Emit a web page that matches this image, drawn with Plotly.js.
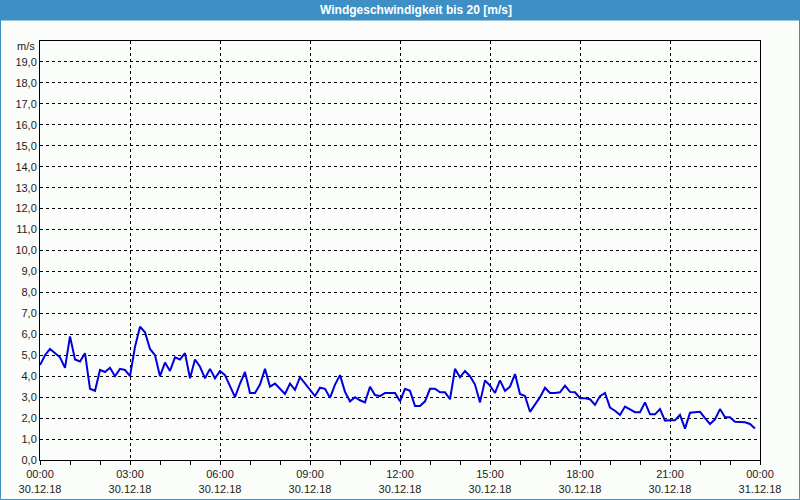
<!DOCTYPE html>
<html>
<head>
<meta charset="utf-8">
<script src="https://cdn.plot.ly/plotly-3.0.1.min.js"></script>
<style>
html,body{margin:0;padding:0;background:#fbfdfb;}
#chart{width:800px;height:500px;}
</style>
</head>
<body>
<div id="chart"></div>
<script>
// Wind speed [m/s], one reading every 10 minutes from 30.12.18 00:00 to 23:50
const speeds = [
 4.53,5.0,5.3,5.1,4.9,4.4,5.9,4.8,4.7,5.1,3.4,3.3,4.3,4.2,4.4,4.0,4.35,4.3,
 4.0,5.4,6.36,6.1,5.3,5.0,4.0,4.65,4.25,4.9,4.8,5.1,3.9,4.8,4.45,3.9,4.35,3.9,
 4.25,4.05,3.5,3.0,3.65,4.2,3.2,3.2,3.6,4.35,3.5,3.65,3.4,3.15,3.65,3.35,3.95,3.65,
 3.35,3.05,3.45,3.4,2.97,3.6,4.05,3.25,2.8,3.0,2.85,2.75,3.5,3.1,3.05,3.2,3.2,3.2,
 2.8,3.4,3.3,2.58,2.58,2.8,3.4,3.4,3.23,3.23,2.9,4.35,3.95,4.25,4.0,3.6,2.75,3.8,
 3.55,3.2,3.8,3.3,3.5,4.1,3.15,3.05,2.3,2.65,3.0,3.45,3.2,3.2,3.23,3.55,3.25,3.23,
 2.95,2.95,2.9,2.63,3.05,3.2,2.5,2.35,2.15,2.55,2.43,2.28,2.28,2.75,2.18,2.18,2.43,1.88,
 1.9,1.9,2.15,1.5,2.26,2.28,2.3,2.0,1.72,1.94,2.43,2.04,2.04,1.83,1.8,1.8,1.72,1.5
];
const startTime = "2018-12-30T00:00:00";
const stepMinutes = 10;

const xTickVals = ["2018-12-30 00:00","2018-12-30 03:00","2018-12-30 06:00","2018-12-30 09:00",
  "2018-12-30 12:00","2018-12-30 15:00","2018-12-30 18:00","2018-12-30 21:00","2018-12-31 00:00"];
const xTickText = ["00:00<br>30.12.18","03:00<br>30.12.18","06:00<br>30.12.18","09:00<br>30.12.18",
  "12:00<br>30.12.18","15:00<br>30.12.18","18:00<br>30.12.18","21:00<br>30.12.18","00:00<br>31.12.18"];
const yTickVals = [0,1,2,3,4,5,6,7,8,9,10,11,12,13,14,15,16,17,18,19];
const yTickText = ["0,0","1,0","2,0","3,0","4,0","5,0","6,0","7,0","8,0","9,0","10,0",
  "11,0","12,0","13,0","14,0","15,0","16,0","17,0","18,0","19,0"];
const titleText = "Windgeschwindigkeit bis 20 [m/s]";
const unitText = "m/s";

function pad(n){return (n<10?"0":"")+n;}
const t0 = new Date(startTime+"Z").getTime();
const times = speeds.map((_, i) => {
  const d = new Date(t0 + i*stepMinutes*60000);
  return d.getUTCFullYear()+"-"+pad(d.getUTCMonth()+1)+"-"+pad(d.getUTCDate())+" "+pad(d.getUTCHours())+":"+pad(d.getUTCMinutes());
});

const fontFam = "Liberation Sans, Arial, sans-serif";
const bg = "#fbfdfb";
const W = 800, H = 500, L = 40, R = 40, T = 41, B = 40;
const pw = W-L-R, ph = H-T-B;
function px(x){return (x-L)/pw;}
function py(y){return (H-B-y)/ph;}

const trace = {
  x: times, y: speeds, type: "scatter", mode: "lines",
  line: {color: "#0000dc", width: 2},
  hoverinfo: "skip"
};

const layout = {
  width: W, height: H,
  margin: {l: L, r: R, t: T, b: B, pad: 0},
  paper_bgcolor: bg, plot_bgcolor: bg,
  showlegend: false,
  font: {family: fontFam, size: 11, color: "#1c1c1c"},
  title: {text: "<b>"+titleText+"</b>", x: 0.52, xanchor: "center", y: 0.98, yanchor: "middle",
    xref: "container", yref: "container",
    font: {family: fontFam, size: 12, color: "#ffffff"}},
  xaxis: {
    type: "date",
    range: ["2018-12-30 00:00", "2018-12-31 00:00"],
    tickmode: "array", tickvals: xTickVals, ticktext: xTickText,
    ticks: "outside", ticklen: 4, tickcolor: "#000", tickwidth: 1,
    showgrid: true, gridcolor: "#000", gridwidth: 1, griddash: "3px,3px",
    showline: true, linecolor: "#000", linewidth: 1, mirror: true,
    zeroline: false,
    minor: {tickmode: "linear", tick0: "2018-12-30 00:00", dtick: 3600000, ticks: "outside", ticklen: 4, tickcolor: "#000", showgrid: false},
    tickfont: {family: fontFam, size: 11, color: "#1c1c1c"},
    fixedrange: true
  },
  yaxis: {
    range: [0, 20],
    tickmode: "array", tickvals: yTickVals, ticktext: yTickText,
    ticks: "", 
    showgrid: true, gridcolor: "#000", gridwidth: 1, griddash: "3px,3px",
    showline: true, linecolor: "#000", linewidth: 1, mirror: true,
    zeroline: false,
    tickfont: {family: fontFam, size: 11, color: "#1c1c1c"},
    fixedrange: true
  },
  shapes: [
    {type: "rect", xref: "paper", yref: "paper", x0: px(0), x1: px(800), y0: py(0), y1: py(20.5),
     fillcolor: "#3d8fc6", line: {width: 0}, layer: "below"},
    {type: "rect", xref: "paper", yref: "paper", x0: px(0.5), x1: px(799.5), y0: py(0.5), y1: py(499.5),
     fillcolor: "rgba(0,0,0,0)", line: {color: "#3d8fc6", width: 1}}
  ],
  annotations: [
    {text: unitText, xref: "paper", yref: "paper", x: 0, y: py(46), xanchor: "right", yanchor: "middle",
     xshift: -3, showarrow: false, font: {family: fontFam, size: 11, color: "#1c1c1c"}}
  ]
};

Plotly.newPlot("chart", [trace], layout, {displayModeBar: false, staticPlot: true});
</script>
</body>
</html>
